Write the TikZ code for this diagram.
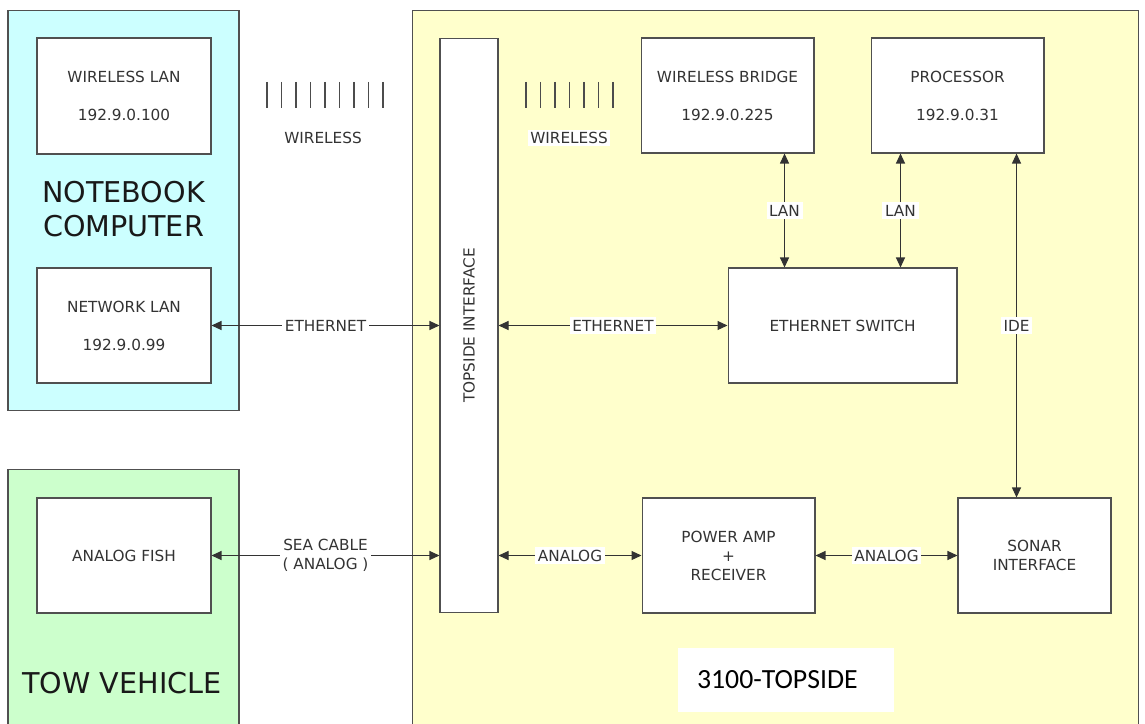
\documentclass[tikz,border=0pt]{standalone}
\usepackage{fontspec}
\setmainfont{DejaVu Sans}
\newfontfamily\calibri{Carlito}
\usetikzlibrary{arrows.meta, positioning}

\definecolor{notebookcyan}{HTML}{CCFFFF}
\definecolor{towgreen}{HTML}{CCFFCC}
\definecolor{topsideyellow}{HTML}{FFFFCC}
\definecolor{linegray}{HTML}{505050}
\definecolor{textgray}{HTML}{333333}

\begin{document}
\begin{tikzpicture}[
    x=0.02cm, y=-0.02cm,
    zone/.style={
        rectangle, draw=linegray, line width=0.6pt, fill=#1, inner sep=0pt
    },
    box/.style={
        rectangle, draw=linegray, line width=0.6pt, fill=white,
        minimum width=3.46cm, minimum height=2.3cm, inner sep=0pt,
        font=\fontsize{8.7}{10.8}\selectfont, text=textgray, align=center
    },
    ipbox/.style={box, font=\fontsize{8.7}{21.6}\selectfont},
    biglabel/.style={font=\fontsize{16.3}{19.3}\selectfont, align=center, text=black!90},
    link/.style={{Triangle[length=2mm,width=1.8mm]}-{Triangle[length=2mm,width=1.8mm]},
        line width=0.6pt, draw=black!80},
    linklabel/.style={fill=white, inner sep=1.5pt, font=\fontsize{8.7}{10.8}\selectfont,
        text=textgray, align=center},
    signal/.style={line width=0.7pt, draw=black!70}
]
\clip (0,0) rectangle (1145,723);
\fill[white] (0,0) rectangle (1145,723);

% Enclosures
\node[zone=notebookcyan, minimum width=4.62cm, minimum height=8.02cm] (notebook) at (123.5,210.5) {};
\node[zone=towgreen, minimum width=4.62cm, minimum height=6cm] (tow) at (123.5,619) {};
\node[zone=topsideyellow, minimum width=14.54cm, minimum height=15cm] (topside) at (775.5,385) {};

\node[biglabel] (notebooklbl) at (123.5,209) {NOTEBOOK\\COMPUTER};
\node[biglabel] (towlbl) at (122,683) {TOW VEHICLE};
\node[fill=white, minimum width=4.32cm, minimum height=1.28cm, text width=3.56cm, align=left,
      font=\calibri\fontsize{15.8}{19}\selectfont] (model) at (786,680) {3100-TOPSIDE};

% Notebook side
\node[ipbox, minimum width=3.48cm, minimum height=2.32cm] (wlan) at (124,96) {WIRELESS LAN\\192.9.0.100};
\node[ipbox, minimum width=3.48cm] (netlan) at (124,325.5) {NETWORK LAN\\192.9.0.99};

% Tow vehicle
\node[box, minimum width=3.48cm] (fish) at (124,555.5) {ANALOG FISH};

% Topside
\node[box, minimum width=11.48cm, minimum height=1.16cm, rotate=90] (topif) at (469,325.5) {TOPSIDE INTERFACE};
\node[ipbox] (bridge) at (727.5,95.5) {WIRELESS BRIDGE\\192.9.0.225};
\node[ipbox, right=1.12cm of bridge] (proc) {PROCESSOR\\192.9.0.31};
\node[box, minimum width=4.58cm] (switch) at (842.5,325.5) {ETHERNET SWITCH};
\node[box] (amp) at (728.5,555.5) {POWER AMP\\+\\RECEIVER};
\node[box, minimum width=3.06cm, right=2.84cm of amp] (sonar) {SONAR\\INTERFACE};

% Wireless
\foreach \i in {0,...,8}
    \draw[signal] (267+14.5*\i,82) -- ++(0,26);
\foreach \i in {0,...,6}
    \draw[signal] (526+14.5*\i,82) -- ++(0,26);
\node[linklabel, fill=none] (wireless1) at (323,138) {WIRELESS};
\node[linklabel] (wireless2) at (569,138) {WIRELESS};

% Cables
\draw[link] (netlan) -- node[linklabel] {ETHERNET} (topif);
\draw[link] (fish) -- node[linklabel] {SEA CABLE\\( ANALOG )} (fish -| topif.north);
\draw[link] (topif.south |- switch) -- node[linklabel] {ETHERNET} (switch);
\draw[link] (topif.south |- amp) -- node[linklabel] {ANALOG} (amp);
\draw[link] (amp) -- node[linklabel] {ANALOG} (sonar);

% LAN and IDE
\draw[link] ([xshift=-0.6cm]bridge.south east) -- node[linklabel] {LAN} ([xshift=-0.6cm]bridge.south east |- switch.north);
\draw[link] ([xshift=0.6cm]proc.south west) -- node[linklabel] {LAN} ([xshift=0.6cm]proc.south west |- switch.north);
\draw[link] ([xshift=-0.56cm]proc.south east) -- node[linklabel] {IDE} ([xshift=-0.56cm]proc.south east |- sonar.north);

\end{tikzpicture}
\end{document}
